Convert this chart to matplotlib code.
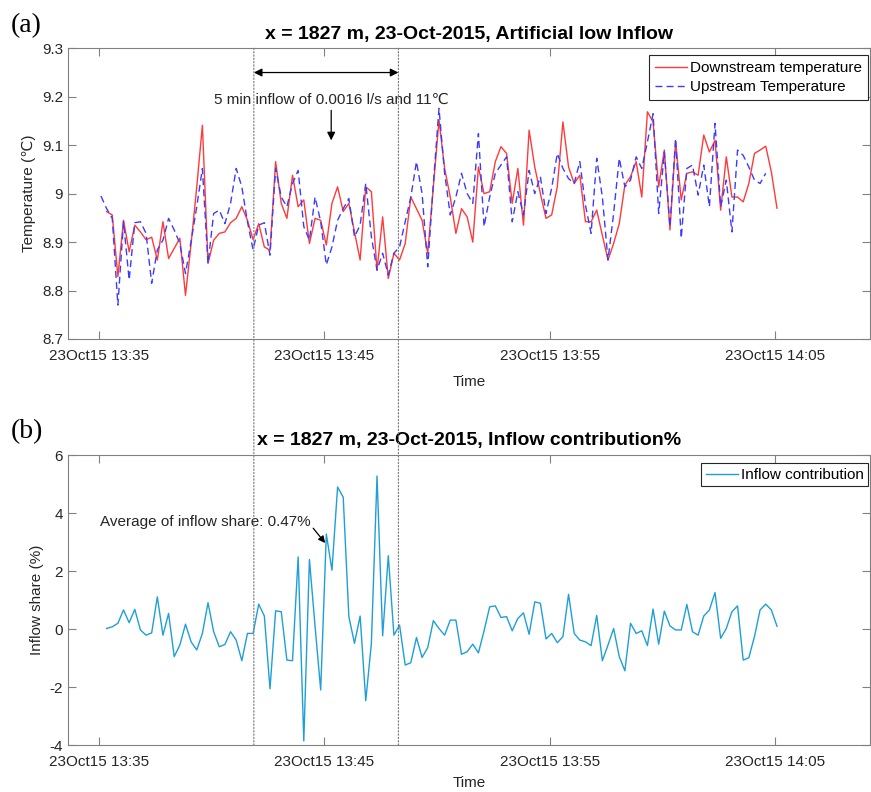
import numpy as np
import pandas as pd
import matplotlib
matplotlib.use("Agg")
import matplotlib.pyplot as plt
import matplotlib.dates as mdates
from matplotlib.patches import ConnectionPatch
from matplotlib.ticker import FormatStrFormatter

plt.rcParams['font.family'] = ['Liberation Sans', 'DejaVu Sans']
plt.rcParams['font.size'] = 11
plt.rcParams['axes.unicode_minus'] = False

# temperatures, 15 s sampling
downstream = [8.963, 8.956, 8.829, 8.945, 8.88, 8.935, 8.921, 8.905, 8.91, 8.863,
              8.942, 8.866, 8.887, 8.908, 8.79, 8.897, 9.014, 9.141, 8.856, 8.904,
              8.918, 8.921, 8.94, 8.949, 8.973, 8.945, 8.905, 8.938, 8.89, 8.883,
              9.066, 8.98, 8.949, 9.038, 8.973, 8.987, 8.897, 8.949, 8.945, 8.894,
              8.98, 9.014, 8.963, 8.98, 8.921, 8.863, 9.014, 9.004, 8.842, 8.952,
              8.825, 8.877, 8.863, 8.897, 8.993, 8.969, 8.945, 8.877, 9.014, 9.152,
              9.052, 8.993, 8.918, 8.969, 8.952, 8.9, 9.055, 9.0, 9.004, 9.066,
              9.097, 9.083, 8.98, 9.052, 8.935, 9.131, 9.055, 9.0, 8.949, 8.956,
              9.014, 9.148, 9.055, 9.021, 9.038, 8.942, 8.942, 8.966, 8.914, 8.863,
              8.897, 8.938, 9.018, 9.035, 9.066, 8.993, 9.169, 9.148, 9.014, 9.09,
              8.925, 9.107, 8.987, 9.042, 9.045, 9.038, 9.121, 9.086, 9.11, 8.966,
              9.076, 8.993, 8.993, 8.983, 9.021, 9.083, 9.09, 9.098, 9.045, 8.97]
upstream = [8.995, 8.969, 8.949, 8.77, 8.942, 8.822, 8.94, 8.942, 8.918, 8.815,
            8.884, 8.904, 8.949, 8.925, 8.897, 8.835, 8.902, 8.973, 9.052, 8.856,
            8.959, 8.966, 8.938, 8.98, 9.052, 9.014, 8.942, 8.884, 8.935, 8.94,
            8.873, 9.052, 8.993, 8.973, 9.021, 9.048, 8.932, 8.904, 8.993, 8.942,
            8.853, 8.89, 8.945, 8.969, 8.99, 8.911, 8.935, 9.021, 8.911, 8.842,
            8.877, 8.832, 8.877, 8.89, 8.942, 8.993, 9.066, 9.0, 8.849, 9.021,
            9.176, 9.042, 8.956, 8.993, 9.042, 9.0, 8.98, 9.124, 8.932, 8.993,
            9.042, 9.059, 9.076, 8.942, 9.004, 8.956, 9.048, 9.0, 9.035, 8.959,
            9.011, 9.083, 9.052, 9.031, 9.021, 9.066, 8.976, 8.918, 9.073, 8.993,
            8.863, 8.959, 9.073, 9.014, 9.028, 9.076, 9.052, 9.107, 9.165, 8.959,
            9.086, 8.932, 9.114, 8.908, 9.052, 9.059, 8.997, 9.059, 8.973, 9.145,
            8.973, 9.028, 8.921, 9.09, 9.079, 9.055, 9.028, 9.021, 9.042]
# inflow share in %
share = [0.02, 0.08, 0.2, 0.66, 0.22, 0.68, -0.03, -0.21, -0.13, 1.11,
         -0.21, 0.54, -0.95, -0.55, 0.17, -0.44, -0.72, -0.15, 0.91, -0.09,
         -0.61, -0.53, -0.09, -0.38, -1.09, -0.15, -0.15, 0.86, 0.45, -2.06,
         0.63, 0.6, -1.07, -1.09, 2.49, -3.86, 2.4, 0.1, -2.1, 3.28,
         2.03, 4.9, 4.55, 0.43, -0.49, 0.45, -2.47, -0.49, 5.28, -0.23,
         2.53, -0.21, 0.14, -1.24, -1.16, -0.29, -0.98, -0.64, 0.29, 0.02,
         -0.21, 0.31, 0.31, -0.87, -0.78, -0.52, -0.82, -0.06, 0.77, 0.8,
         0.4, 0.43, -0.06, 0.37, 0.56, -0.18, 0.94, 0.89, -0.34, -0.15,
         -0.47, -0.26, 1.2, -0.15, -0.38, -0.44, -0.57, 0.47, -1.09, -0.55,
         0.02, -0.95, -1.44, 0.2, -0.15, -0.06, -0.57, 0.69, -0.52, 0.62,
         0.11, -0.03, -0.03, 0.85, -0.09, -0.21, 0.45, 0.66, 1.26, -0.32,
         0.02, 0.6, 0.8, -1.07, -0.99, -0.26, 0.66, 0.86, 0.66, 0.1]

t_down = pd.date_range('2015-10-23 13:35:20', periods=len(downstream), freq='15s')
t_up = pd.date_range('2015-10-23 13:35:05', periods=len(upstream), freq='15s')
t_share = pd.date_range('2015-10-23 13:35:20', periods=len(share), freq='15s')

inflow_start = pd.Timestamp('2015-10-23 13:41:52')
inflow_end = pd.Timestamp('2015-10-23 13:48:17')
xlim = (pd.Timestamp('2015-10-23 13:33:37'), pd.Timestamp('2015-10-23 14:09:13'))
xticks = pd.to_datetime(['2015-10-23 13:35', '2015-10-23 13:45',
                         '2015-10-23 13:55', '2015-10-23 14:05'])

txt = '#262626'
fig = plt.figure(figsize=(8.71, 7.92), dpi=100)
ax1 = fig.add_axes([0.078, 0.572, 0.921, 0.367])
ax2 = fig.add_axes([0.078, 0.0593, 0.921, 0.366])

for ax in (ax1, ax2):
    ax.set_xlim(xlim)
    ax.set_xticks(xticks)
    ax.xaxis.set_major_formatter(mdates.DateFormatter('%d%b%y %H:%M'))
    ax.tick_params(direction='in', top=True, right=True, length=5.5,
                   colors='#808080', labelcolor=txt, labelsize=11)
    ax.tick_params(axis='x', pad=7)
    for s in ax.spines.values():
        s.set_color('#808080')
ax1.set_xlabel('Time', color=txt, fontsize=11, labelpad=9)
ax2.set_xlabel('Time', color=txt, fontsize=11, labelpad=5)

# (a) temperatures
ax1.plot(t_down, downstream, color='#ff3a3a', lw=1.0, label='Downstream temperature')
ax1.plot(t_up, upstream, color='#3c3cff', lw=1.0, ls=(0, (5, 3)), label='Upstream Temperature')
ax1.set_ylim(8.7, 9.3)
ax1.set_yticks(np.arange(8.7, 9.31, 0.1))
ax1.yaxis.set_major_formatter(FormatStrFormatter('%g'))
ax1.set_ylabel('Temperature (℃)', color=txt, fontsize=11)
ax1.set_title('x = 1827 m, 23-Oct-2015, Artificial low Inflow', fontweight='bold', fontsize=14, pad=7)
leg = ax1.legend(loc='upper right', bbox_to_anchor=(0.9975, 0.976), fancybox=False,
                 edgecolor='#262626', framealpha=1, handlelength=2.1, handletextpad=0.2,
                 borderaxespad=0, fontsize=11, borderpad=0.4, labelspacing=0.3)
leg.get_frame().set_linewidth(0.8)

ax1.annotate('', xy=(inflow_end, 9.25), xytext=(inflow_start, 9.25),
             arrowprops=dict(arrowstyle='<|-|>', color='black', lw=0.9, mutation_scale=12,
                             shrinkA=0, shrinkB=0))
t_mid = pd.Timestamp('2015-10-23 13:45:18')
ax1.text(t_mid, 9.193, '5 min inflow of 0.0016 l/s and 11℃', ha='center', va='center',
         color=txt, fontsize=11)
ax1.annotate('', xy=(t_mid, 9.11), xytext=(t_mid, 9.172),
             arrowprops=dict(arrowstyle='-|>', color='black', lw=0.9, mutation_scale=12,
                             shrinkA=0, shrinkB=0))

# (b) inflow share
ax2.plot(t_share, share, color='#1e9fd8', lw=1.0, label='Inflow contribution')
ax2.set_ylim(-4, 6)
ax2.set_yticks([-4, -2, 0, 2, 4, 6])
ax2.set_ylabel('Inflow share (%)', color=txt, fontsize=11)
ax2.set_title('x = 1827 m, 23-Oct-2015, Inflow contribution%', fontweight='bold', fontsize=14, pad=7)
leg2 = ax2.legend(loc='upper right', bbox_to_anchor=(0.9975, 0.972), fancybox=False,
                  edgecolor='#262626', framealpha=1, handlelength=2.1, handletextpad=0.2,
                  borderaxespad=0, fontsize=11, borderpad=0.3)
leg2.get_frame().set_linewidth(0.8)
ax2.text(pd.Timestamp('2015-10-23 13:35:03'), 3.69, 'Average of inflow share: 0.47%',
         ha='left', va='center', color=txt, fontsize=11)
ax2.annotate('', xy=(pd.Timestamp('2015-10-23 13:45:02'), 2.97),
             xytext=(pd.Timestamp('2015-10-23 13:44:30'), 3.48),
             arrowprops=dict(arrowstyle='-|>', color='black', lw=0.9, mutation_scale=10,
                             shrinkA=0, shrinkB=0))

# dotted lines marking the inflow period, through both panels
for t in (inflow_start, inflow_end):
    tn = mdates.date2num(t)
    con = ConnectionPatch(xyA=(tn, 9.3), coordsA=ax1.transData,
                          xyB=(tn, -4), coordsB=ax2.transData,
                          ls=':', color='#808080', lw=0.9)
    fig.add_artist(con)

fig.text(0.012, 0.968, '(a)', family='Liberation Serif', fontsize=20, va='center')
fig.text(0.012, 0.455, '(b)', family='Liberation Serif', fontsize=20, va='center')

fig.savefig('out.png', dpi=100)
